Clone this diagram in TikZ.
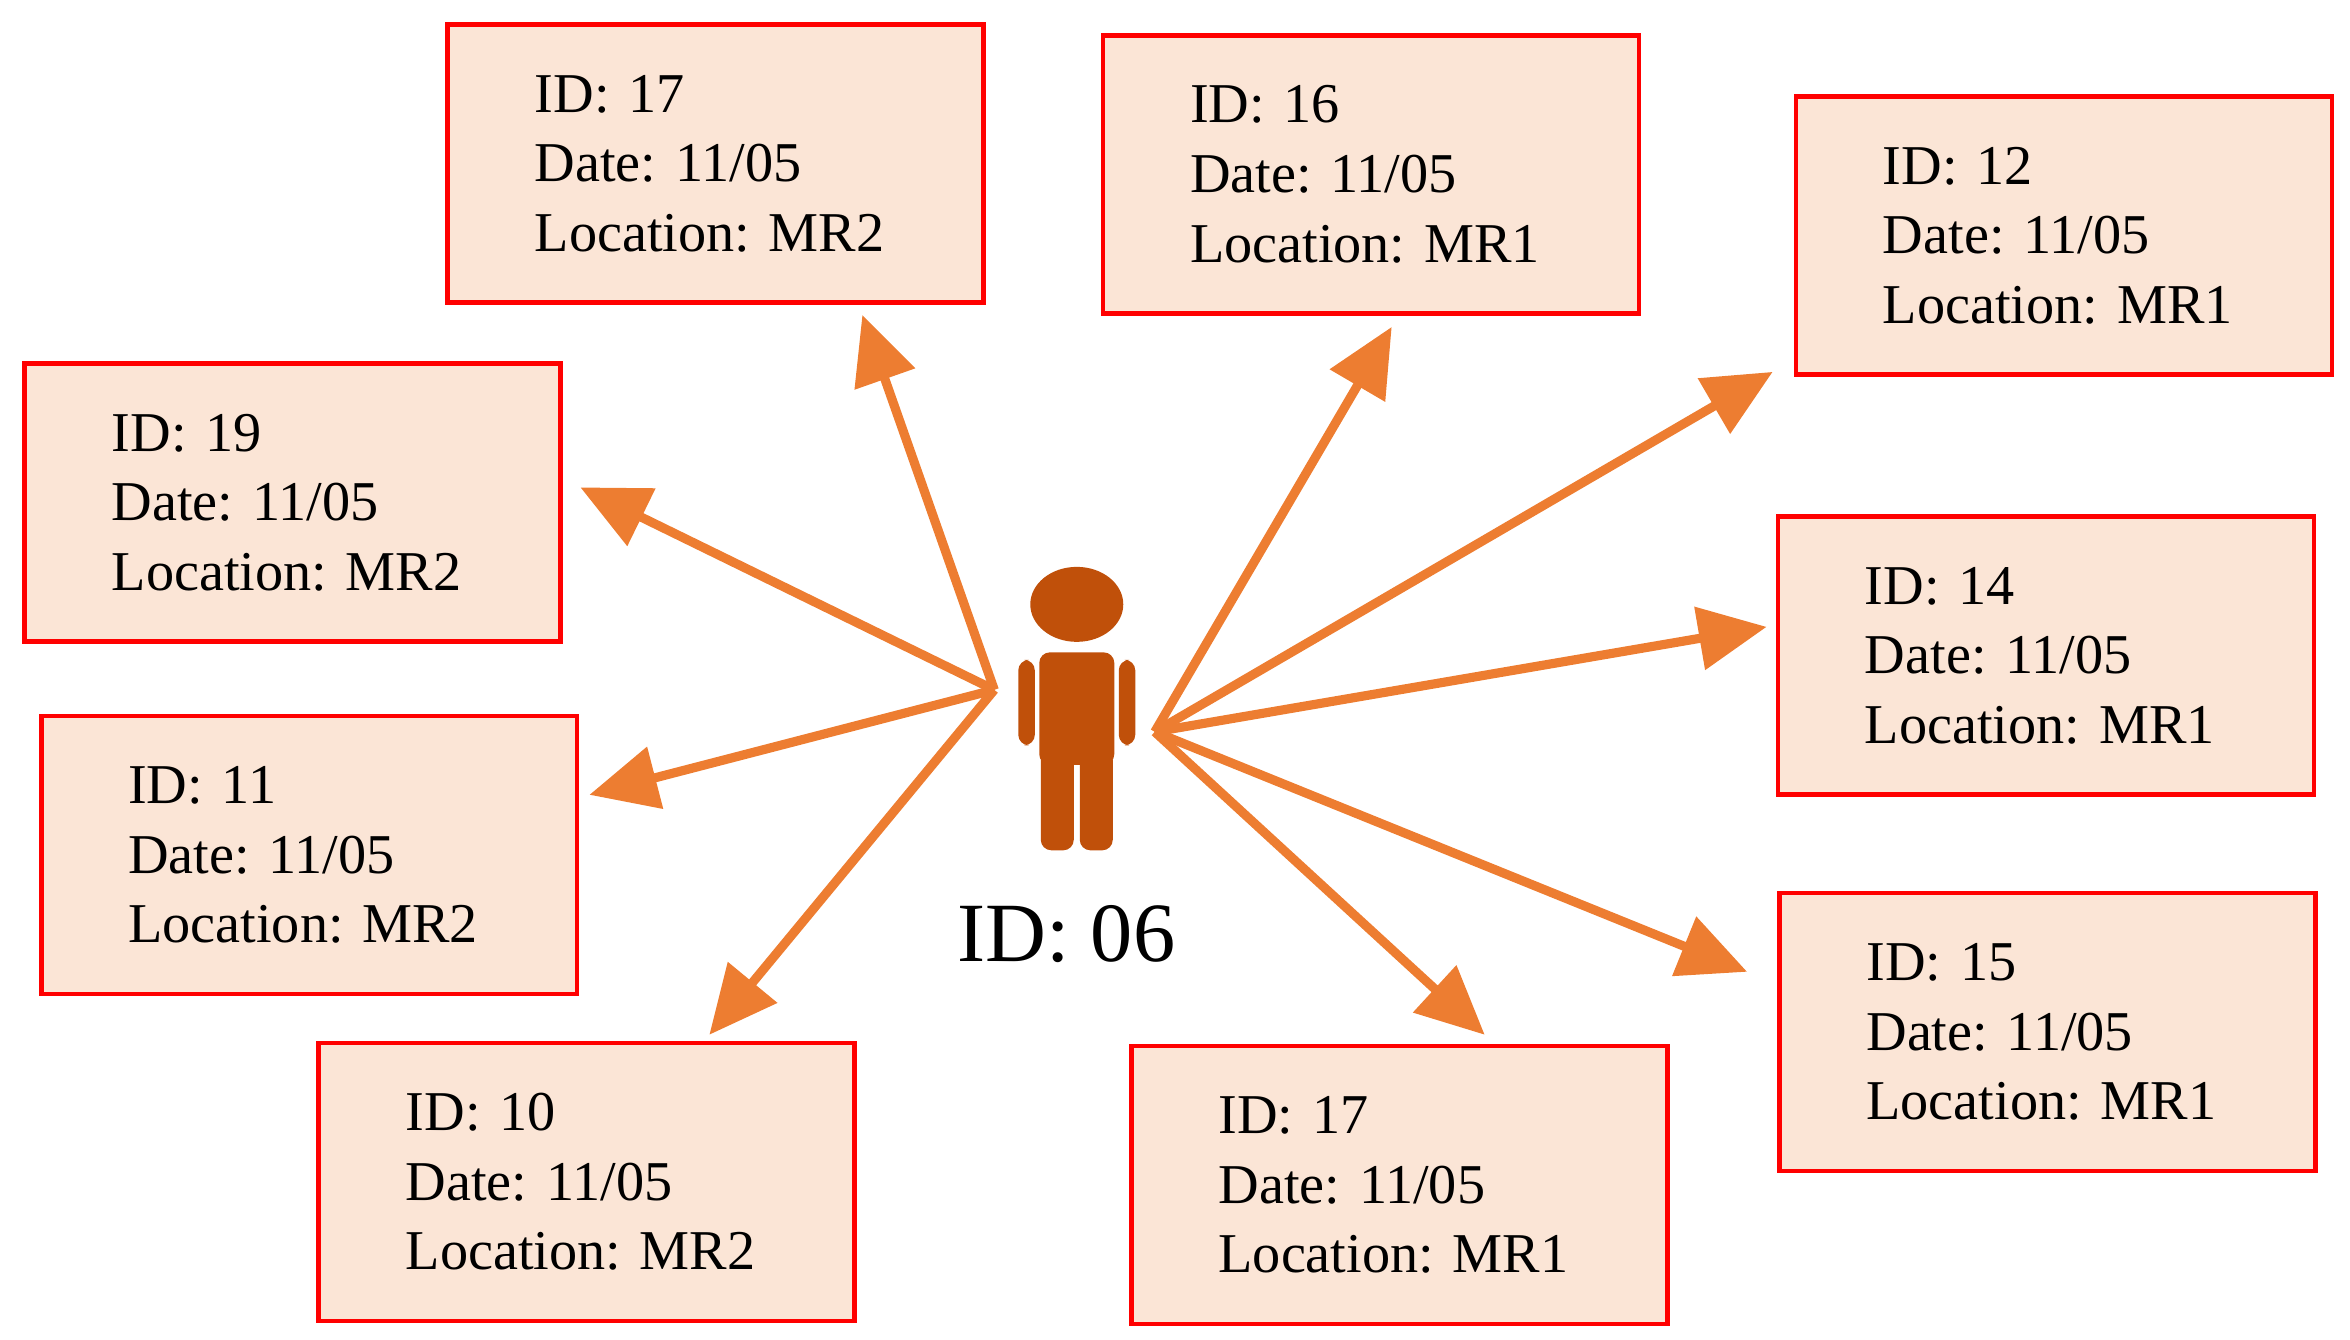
\documentclass[tikz,border=0pt]{standalone}
\usepackage{fontspec}
\setmainfont{Liberation Serif}
\usetikzlibrary{arrows.meta}
\definecolor{boxfill}{HTML}{FBE5D6}
\definecolor{arrowc}{HTML}{ED7D31}
\definecolor{personc}{HTML}{C0500A}
\frenchspacing
\tikzset{
	rec/.style={draw=red, line width=1.3pt, fill=boxfill, anchor=north west,
		minimum width=5.36cm, minimum height=2.78cm, text width=3.62cm,
		inner xsep=0.87cm, align=left, font=\fontsize{16}{19.8}\selectfont},
	link/.style={draw=arrowc, line width=2.6pt, -{Triangle[length=0.68cm,width=0.62cm]}}
}
\begin{document}
\begin{tikzpicture}[x=0.015cm, y=-0.015cm]
	\useasboundingbox (0,0) rectangle (1567,893);
	\node[rec] (r17a) at (297,15) {ID: 17\\Date: 11/05\\Location: MR2};
	\node[rec] (r16) at (734,22) {ID: 16\\Date: 11/05\\Location: MR1};
	\node[rec] (r12) at (1196,63) {ID: 12\\Date: 11/05\\Location: MR1};
	\node[rec] (r19) at (15,241) {ID: 19\\Date: 11/05\\Location: MR2};
	\node[rec] (r14) at (1184,343) {ID: 14\\Date: 11/05\\Location: MR1};
	\node[rec] (r11) at (26,476) {ID: 11\\Date: 11/05\\Location: MR2};
	\node[rec] (r15) at (1185,594) {ID: 15\\Date: 11/05\\Location: MR1};
	\node[rec] (r10) at (211,694) {ID: 10\\Date: 11/05\\Location: MR2};
	\node[rec] (r17b) at (753,696) {ID: 17\\Date: 11/05\\Location: MR1};
	% person
	\fill[personc] (718,403) ellipse [x radius=31, y radius=25];
	\fill[personc, rounded corners=3pt] (693,435) rectangle (743,510);
	\fill[personc, rounded corners=3pt] (694,500) rectangle (716,567);
	\fill[personc, rounded corners=3pt] (720,500) rectangle (742,567);
	\fill[personc, rounded corners=3pt] (679,440) rectangle (690,497);
	\fill[personc, rounded corners=3pt] (746,440) rectangle (757,497);
	\node[font=\fontsize{24}{28}\selectfont] (who) at (711,623) {ID: 06};
	% arrows
	\coordinate (L) at (663,460);
	\coordinate (R) at (770,488);
	\coordinate (t17a) at (575,210);
	\coordinate (t19) at (387,325);
	\coordinate (t11) at (393,530);
	\coordinate (t10) at (473,690);
	\coordinate (t16) at (928,218);
	\coordinate (t12) at (1182,248);
	\coordinate (t14) at (1178,418);
	\coordinate (t15) at (1165,648);
	\coordinate (t17b) at (990,690);
	\draw[link] (L) -- (t17a);
	\draw[link] (L) -- (t19);
	\draw[link] (L) -- (t11);
	\draw[link] (L) -- (t10);
	\draw[link] (R) -- (t16);
	\draw[link] (R) -- (t12);
	\draw[link] (R) -- (t14);
	\draw[link] (R) -- (t15);
	\draw[link] (R) -- (t17b);
\end{tikzpicture}
\end{document}
